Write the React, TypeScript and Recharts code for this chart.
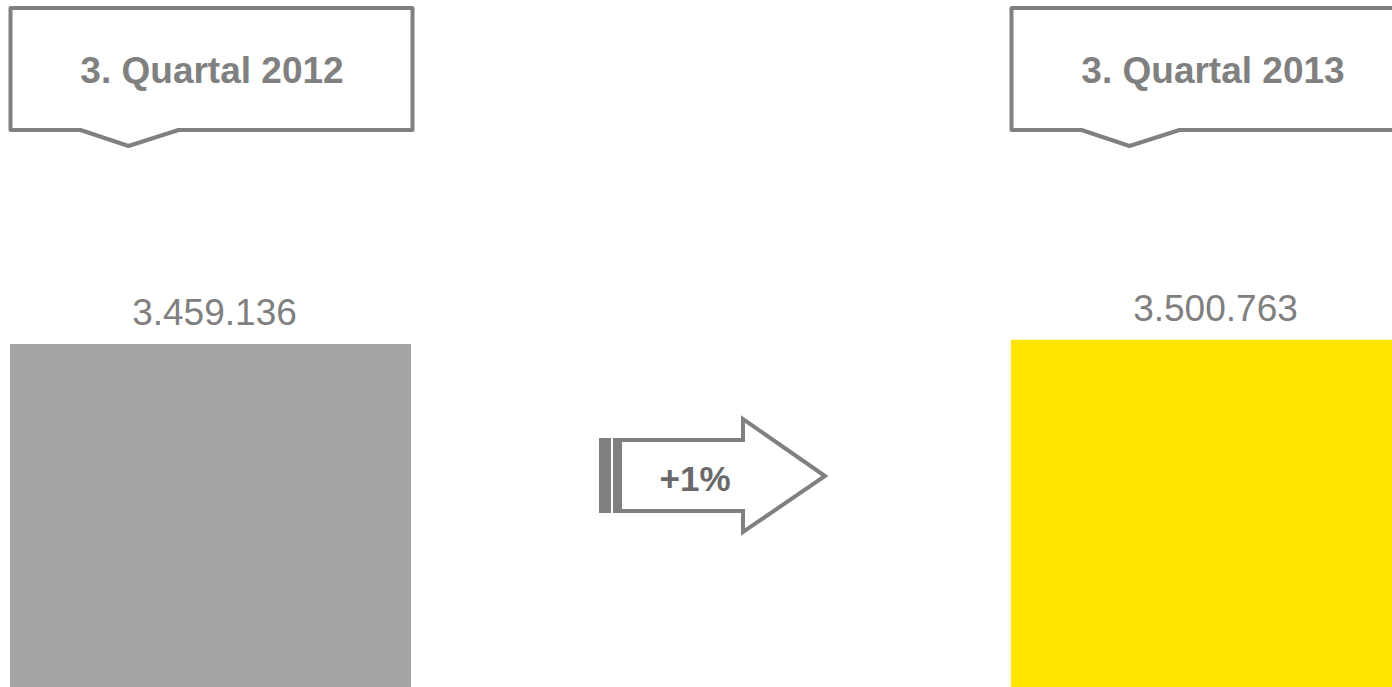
import { Bar, BarChart, Cell, LabelList, XAxis, YAxis } from 'recharts';

// Kundenzahlen je Quartal
const quarters = ['3. Quartal 2012', '3. Quartal 2013'];
const customers = [3459136, 3500763];

const BAR_COLORS = ['#a5a5a5', '#ffe600'];
const GREY = '#808080';
const FONT = "Arial, 'Liberation Sans', sans-serif";

const data = quarters.map((name, i) => ({ name, value: customers[i] }));

const change = Math.round((customers[1] / customers[0] - 1) * 100);
const changeLabel = `${change >= 0 ? '+' : ''}${change}%`;

function formatDe(n: number) {
  return String(n).replace(/\B(?=(\d{3})+(?!\d))/g, '.');
}

function ValueLabel(props: any) {
  const cx = Number(props.x) + Number(props.width) / 2;
  return (
    <text
      x={cx + 4}
      y={Number(props.y) - 19}
      textAnchor="middle"
      fontFamily={FONT}
      fontSize={37}
      fill={GREY}
    >
      {formatDe(Number(props.value))}
    </text>
  );
}

function CalloutLabel(props: any) {
  const cx = Number(props.x) + Number(props.width) / 2;
  const left = cx - 200;
  const right = cx + 202;
  const top = 8;
  const bottom = 130;
  const d = `M${left},${top} H${right} V${bottom} H${cx - 32} L${cx - 82},${146} L${cx - 130},${bottom} H${left} Z`;
  return (
    <g>
      <path d={d} fill="#fff" stroke={GREY} strokeWidth={4} strokeLinejoin="round" />
      <text
        x={cx + 1.5}
        y={83}
        textAnchor="middle"
        fontFamily={FONT}
        fontWeight="bold"
        fontSize={37}
        fill={GREY}
      >
        {props.value}
      </text>
    </g>
  );
}

function ChangeArrow() {
  return (
    <svg
      width={1392}
      height={687}
      style={{ position: 'absolute', left: 0, top: 0, pointerEvents: 'none' }}
    >
      <path
        d="M620,440 H743 V419 L825,476 L743,532 V511 H620 Z"
        fill="#fff"
        stroke={GREY}
        strokeWidth={4}
      />
      <rect x={599} y={438} width={12} height={75} fill={GREY} />
      <rect x={613} y={438} width={8} height={75} fill={GREY} />
      <text
        x={695}
        y={491}
        textAnchor="middle"
        fontFamily={FONT}
        fontWeight="bold"
        fontSize={35}
        fill="#6a6a6a"
      >
        {changeLabel}
      </text>
    </svg>
  );
}

export default function App() {
  return (
    <div
      style={{
        position: 'fixed',
        left: 0,
        top: 0,
        width: 1392,
        height: 687,
        overflow: 'hidden',
        background: '#fff',
      }}
    >
      <div style={{ position: 'absolute', left: -290, top: 0 }}>
        <BarChart
          width={2002}
          height={687}
          data={data}
          margin={{ top: 0, right: 0, bottom: 0, left: 0 }}
        >
          <XAxis dataKey="name" hide />
          <YAxis hide domain={[0, 6928000]} />
          <Bar dataKey="value" barSize={401} isAnimationActive={false}>
            {data.map((d, i) => (
              <Cell key={d.name} fill={BAR_COLORS[i]} />
            ))}
            <LabelList dataKey="value" content={ValueLabel} />
            <LabelList dataKey="name" content={CalloutLabel} />
          </Bar>
        </BarChart>
      </div>
      <ChangeArrow />
    </div>
  );
}
